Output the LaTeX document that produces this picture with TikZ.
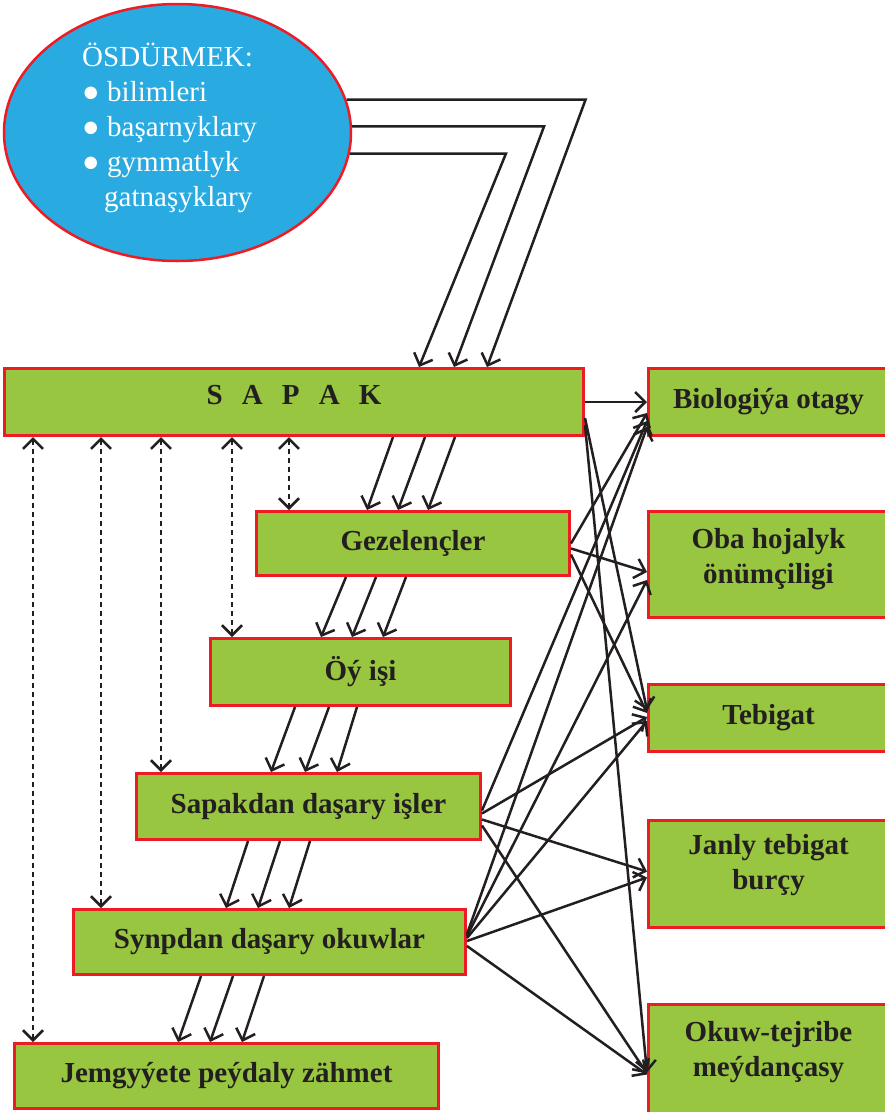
\documentclass[tikz,border=0pt]{standalone}
\usepackage{fontspec}
\setmainfont{Liberation Serif}
\usetikzlibrary{arrows.meta,shapes.geometric}
\definecolor{boxgreen}{RGB}{152,198,64}
\definecolor{boxred}{RGB}{237,28,36}
\definecolor{ovalblue}{RGB}{41,170,225}
\definecolor{inkgray}{RGB}{35,31,32}
\tikzset{
  box/.style={draw=boxred, fill=boxgreen, line width=3pt, inner sep=0pt, align=center,
    font=\fontsize{29}{35}\selectfont\bfseries, text=inkgray},
  oval/.style={ellipse, draw=boxred, fill=ovalblue, line width=2.5pt, inner sep=0pt},
  goaltext/.style={align=left, inner sep=0pt, text=white, font=\fontsize{29}{35}\selectfont},
  arr/.style={-{Straight Barb[length=10pt,width=20pt]}, line width=2.5pt, draw=inkgray},
  dotarr/.style={{Straight Barb[length=10pt,width=20pt]}-{Straight Barb[length=10pt,width=20pt]},
    line width=2.6pt, dash pattern=on 5pt off 4pt, draw=inkgray},
}
\begin{document}
\begin{tikzpicture}[x=1pt,y=-1pt]
  \useasboundingbox (0,0) rectangle (885,1112);
  \node[oval, minimum width=347pt, minimum height=257pt] (ell) at (177.5,132.5) {};
  \node[goaltext, anchor=north west] (goal) at (82,43)
    {ÖSDÜRMEK:\\
     \makebox[25pt][l]{●}bilimleri\\
     \makebox[25pt][l]{●}başarnyklary\\
     \makebox[25pt][l]{●}gymmatlyk\\
     \hspace*{22pt}gatnaşyklary};

  \node[box, minimum width=579pt, minimum height=67pt, text depth=14pt] (sapak) at (294,402)
    {S\hspace{0.66em}A\hspace{0.66em}P\hspace{0.66em}A\hspace{0.66em}K};
  \node[box, minimum width=313pt, minimum height=64pt] (gez) at (413,543.5) {Gezelençler};
  \node[box, minimum width=300pt, minimum height=67pt] (oyisi) at (360.5,672) {Öý işi};
  \node[box, minimum width=344pt, minimum height=66pt] (sapdas) at (308.5,806.5) {Sapakdan daşary işler};
  \node[box, minimum width=392pt, minimum height=65pt] (synp) at (269.5,942) {Synpdan daşary okuwlar};
  \node[box, minimum width=424pt, minimum height=65pt] (jem) at (226.5,1076) {Jemgyýete peýdaly zähmet};

  \node[box, minimum width=240pt, minimum height=67pt] (bio) at (768.5,402) {Biologiýa otagy};
  \node[box, minimum width=240pt, minimum height=106pt] (oba) at (768.5,564)
    {Oba hojalyk\\önümçiligi\rule[-16pt]{0pt}{0pt}};
  \node[box, minimum width=240pt, minimum height=67pt] (teb) at (768.5,718) {Tebigat};
  \node[box, minimum width=240pt, minimum height=107pt] (janly) at (768.5,873.5)
    {Janly tebigat\\burçy\rule[-24pt]{0pt}{0pt}};
  \node[box, minimum width=240pt, minimum height=110pt] (okuw) at (768.5,1059.5)
    {Okuw-tejribe\\meýdançasy\rule[-22pt]{0pt}{0pt}};

  \draw[arr] (ell.11) -- ++(239,0) -- ([xshift=484pt]sapak.north west);
  \draw[arr] (ell.2) -- ++(192,0) -- ([xshift=451pt]sapak.north west);
  \draw[arr] (ell.-7) -- ++(156,0) -- ([xshift=416pt]sapak.north west);

  \begin{scope}[arr]
    \draw ([xshift=390pt]sapak.south west) to ([xshift=112pt]gez.north west);
    \draw ([xshift=422pt]sapak.south west) to ([xshift=143pt]gez.north west);
    \draw ([xshift=452pt]sapak.south west) to ([xshift=173pt]gez.north west);
    \draw ([xshift=91pt]gez.south west) to ([xshift=112pt]oyisi.north west);
    \draw ([xshift=121pt]gez.south west) to ([xshift=143pt]oyisi.north west);
    \draw ([xshift=151pt]gez.south west) to ([xshift=174pt]oyisi.north west);
    \draw ([xshift=86pt]oyisi.south west) to ([xshift=136pt]sapdas.north west);
    \draw ([xshift=120pt]oyisi.south west) to ([xshift=170pt]sapdas.north west);
    \draw ([xshift=148pt]oyisi.south west) to ([xshift=202pt]sapdas.north west);
    \draw ([xshift=113pt]sapdas.south west) to ([xshift=154pt]synp.north west);
    \draw ([xshift=145pt]sapdas.south west) to ([xshift=186pt]synp.north west);
    \draw ([xshift=175pt]sapdas.south west) to ([xshift=217pt]synp.north west);
    \draw ([xshift=129pt]synp.south west) to ([xshift=165pt]jem.north west);
    \draw ([xshift=161pt]synp.south west) to ([xshift=197pt]jem.north west);
    \draw ([xshift=192pt]synp.south west) to ([xshift=229pt]jem.north west);
  \end{scope}

  \begin{scope}[dotarr]
    \draw ([xshift=286pt]sapak.south west) to ([xshift=34pt]gez.north west);
    \draw ([xshift=229pt]sapak.south west) to ([xshift=23pt]oyisi.north west);
    \draw ([xshift=158pt]sapak.south west) to ([xshift=26pt]sapdas.north west);
    \draw ([xshift=98pt]sapak.south west) to ([xshift=29pt]synp.north west);
    \draw ([xshift=30pt]sapak.south west) to ([xshift=20pt]jem.north west);
  \end{scope}

  \begin{scope}[arr]
    \draw (sapak.east) to (bio.west);
    \draw ([yshift=-16pt]sapak.east) to ([yshift=8pt]teb.west);
    \draw ([yshift=-23pt]sapak.east) to ([yshift=-13pt]okuw.west);
    \draw (gez.east) to ([yshift=-11pt]bio.west);
    \draw ([yshift=-5pt]gez.east) to ([yshift=-8pt]oba.west);
    \draw ([yshift=-11pt]gez.east) to ([yshift=5pt]teb.west);
    \draw ([yshift=-4pt]sapdas.east) to ([yshift=-19pt]bio.west);
    \draw ([yshift=-7pt]sapdas.east) to ([yshift=1pt]teb.west);
    \draw ([yshift=-13pt]sapdas.east) to ([yshift=2pt]janly.west);
    \draw ([yshift=-19pt]sapdas.east) to ([yshift=-14pt]okuw.west);
    \draw ([yshift=8pt]synp.east) to ([yshift=-25pt]bio.west);
    \draw ([yshift=6pt]synp.east) to ([yshift=-16pt]oba.west);
    \draw ([yshift=4pt]synp.east) to ([yshift=-3pt]teb.west);
    \draw ([yshift=1pt]synp.east) to ([yshift=-4pt]janly.west);
    \draw ([yshift=-4pt]synp.east) to ([yshift=-15pt]okuw.west);
  \end{scope}
\end{tikzpicture}
\end{document}
